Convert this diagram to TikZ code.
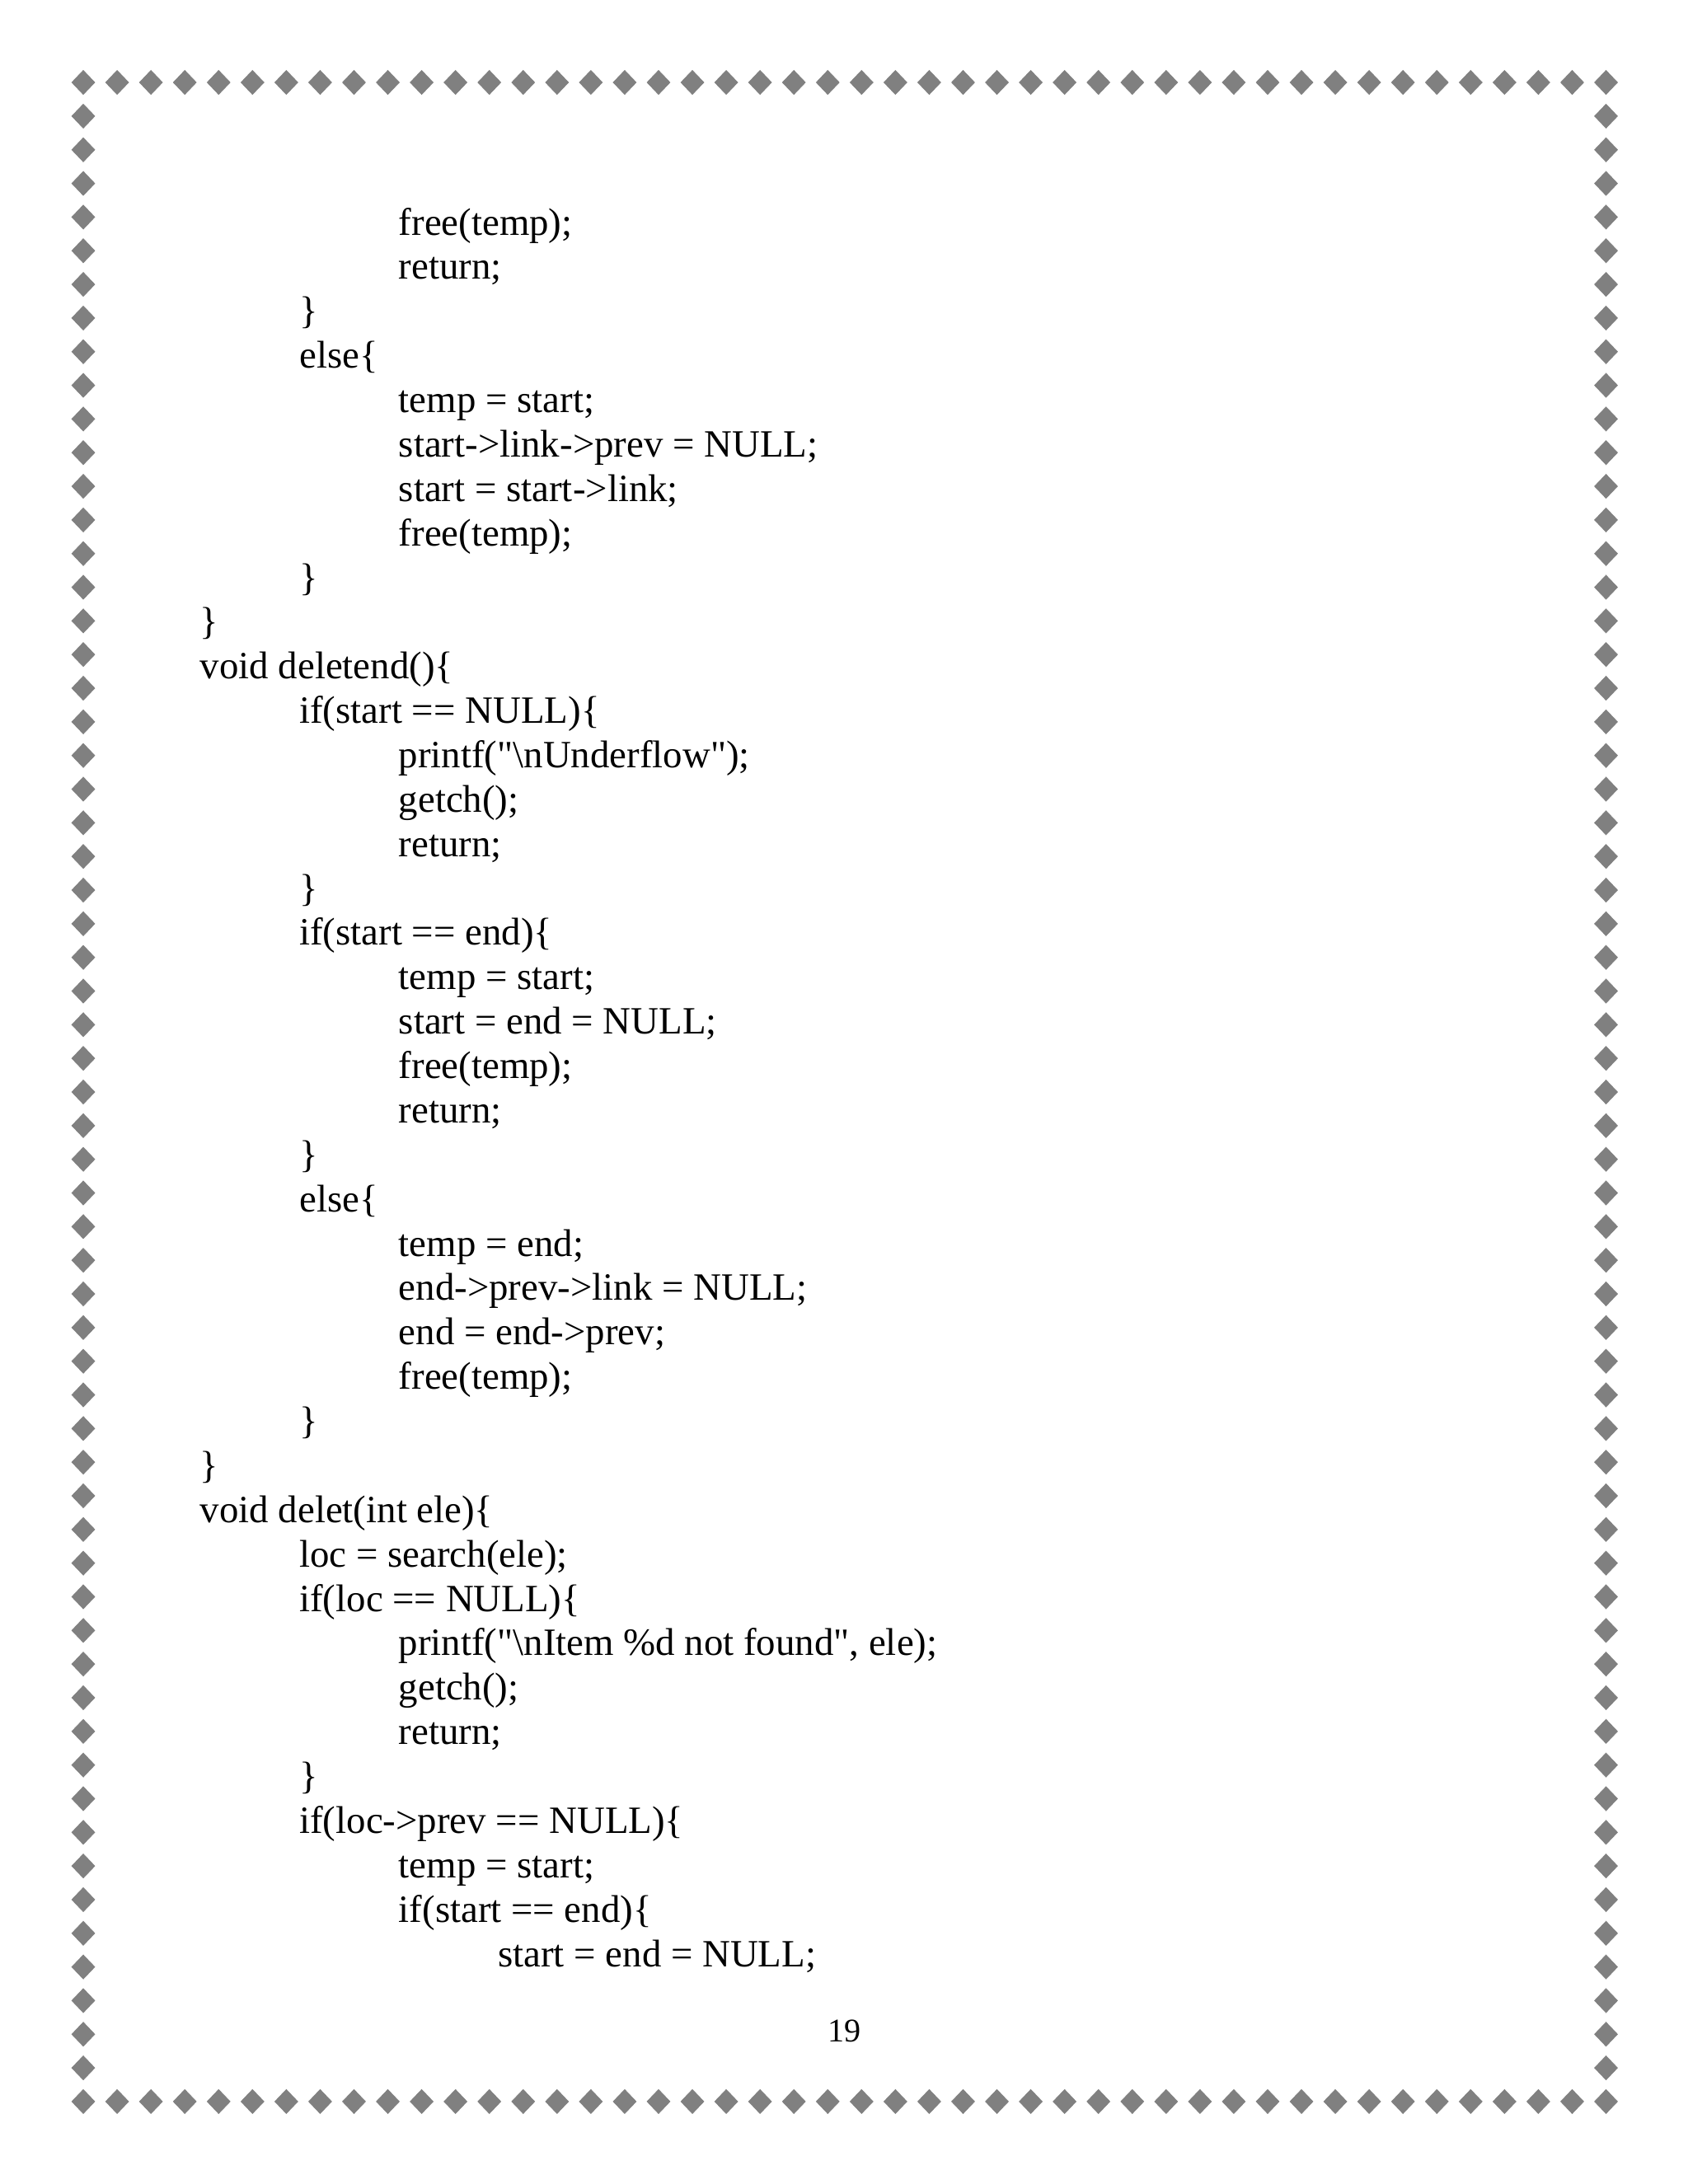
\documentclass[tikz,border=0pt]{standalone}
\usepackage{fontspec}
\setmainfont{Liberation Serif}[Ligatures=TeXOff]
\usepackage{tikz}
\usetikzlibrary{shapes}

\tikzset{
  gem/.style={diamond, fill=gray, inner sep=0pt, minimum width=8.8pt, minimum height=9.2pt},
  code/.style={anchor=base west, inner sep=0pt, font=\fontsize{14}{16}\selectfont},
  pageno/.style={anchor=base, inner sep=0pt, font=\fontsize{12}{14}\selectfont}
}

\begin{document}
\begin{tikzpicture}[x=1pt,y=1pt]
\useasboundingbox (0,0) rectangle (612,792);
% diamond border
\foreach \i in {0,...,45}{
  \node[gem] (top\i) at ({30.2+\i*12.27},762.1) {};
  \node[gem] (bot\i) at ({30.2+\i*12.27},29.9) {};
}
\foreach \j in {1,...,59}{
  \node[gem] (left\j) at (30.2,{29.9+\j*12.203}) {};
  \node[gem] (right\j) at (582.35,{29.9+\j*12.203}) {};
}
% code lines
\node[code] (l1) at (144.4,706.80) {free(temp);};
\node[code] (l2) at (144.4,690.70) {return;};
\node[code] (l3) at (108.4,674.60) {\}};
\node[code] (l4) at (108.4,658.50) {else\{};
\node[code] (l5) at (144.4,642.40) {temp = start;};
\node[code] (l6) at (144.4,626.30) {start->link->prev = NULL;};
\node[code] (l7) at (144.4,610.20) {start = start->link;};
\node[code] (l8) at (144.4,594.10) {free(temp);};
\node[code] (l9) at (108.4,578.00) {\}};
\node[code] (l10) at (72.4,561.90) {\}};
\node[code] (l11) at (72.4,545.80) {void deletend()\{};
\node[code] (l12) at (108.4,529.70) {if(start == NULL)\{};
\node[code] (l13) at (144.4,513.60) {printf("\textbackslash nUnderflow");};
\node[code] (l14) at (144.4,497.50) {getch();};
\node[code] (l15) at (144.4,481.40) {return;};
\node[code] (l16) at (108.4,465.30) {\}};
\node[code] (l17) at (108.4,449.20) {if(start == end)\{};
\node[code] (l18) at (144.4,433.10) {temp = start;};
\node[code] (l19) at (144.4,417.00) {start = end = NULL;};
\node[code] (l20) at (144.4,400.90) {free(temp);};
\node[code] (l21) at (144.4,384.80) {return;};
\node[code] (l22) at (108.4,368.70) {\}};
\node[code] (l23) at (108.4,352.60) {else\{};
\node[code] (l24) at (144.4,336.50) {temp = end;};
\node[code] (l25) at (144.4,320.40) {end->prev->link = NULL;};
\node[code] (l26) at (144.4,304.30) {end = end->prev;};
\node[code] (l27) at (144.4,288.20) {free(temp);};
\node[code] (l28) at (108.4,272.10) {\}};
\node[code] (l29) at (72.4,256.00) {\}};
\node[code] (l30) at (72.4,239.90) {void delet(int ele)\{};
\node[code] (l31) at (108.4,223.80) {loc = search(ele);};
\node[code] (l32) at (108.4,207.70) {if(loc == NULL)\{};
\node[code] (l33) at (144.4,191.60) {printf("\textbackslash nItem \%d not found", ele);};
\node[code] (l34) at (144.4,175.50) {getch();};
\node[code] (l35) at (144.4,159.40) {return;};
\node[code] (l36) at (108.4,143.30) {\}};
\node[code] (l37) at (108.4,127.20) {if(loc->prev == NULL)\{};
\node[code] (l38) at (144.4,111.10) {temp = start;};
\node[code] (l39) at (144.4,95.00) {if(start == end)\{};
\node[code] (l40) at (180.4,78.90) {start = end = NULL;};
% page number
\node[pageno] (num) at (306.3,51.7) {19};
\end{tikzpicture}
\end{document}
